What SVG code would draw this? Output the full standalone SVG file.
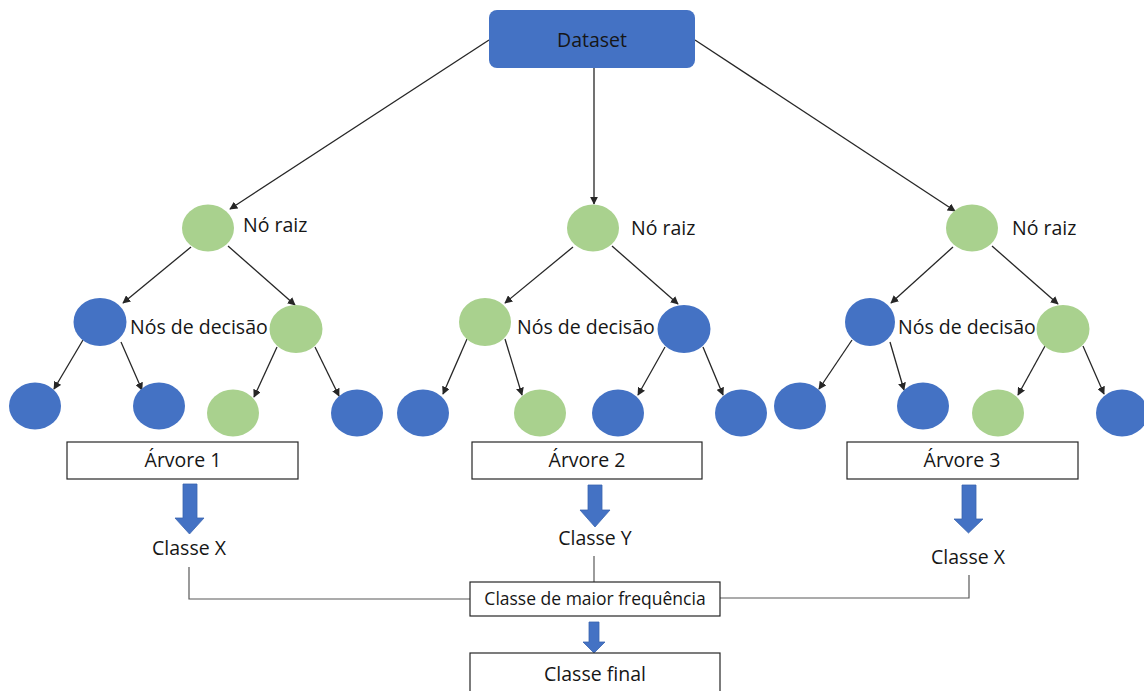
<svg xmlns="http://www.w3.org/2000/svg" width="1144" height="691" viewBox="0 0 1144 691">
  <style>
    .blue { fill: #4472C4; }
    .green { fill: #A9D18E; }
    .edge { stroke: #262626; stroke-width: 1.3; fill: none; marker-end: url(#arrow); }
    .wire { stroke: #595959; stroke-width: 1.2; fill: none; }
    .box { fill: #FFFFFF; stroke: #262626; stroke-width: 1.2; }
    .label { font-family: "Open Sans", "Liberation Sans", sans-serif; fill: #161616; }
    .big { font-size: 19.5px; }
    .mid { font-size: 19.5px; }
    .small { font-size: 17.5px; }
    .block { fill: #4472C4; stroke: #3A64B0; stroke-width: 0.8; }
  </style>
  <defs>
    <marker id="arrow" viewBox="0 0 10 10" refX="9" refY="5" markerWidth="8" markerHeight="8" markerUnits="userSpaceOnUse" orient="auto">
      <path d="M0,0 L10,5 L0,10 Z" fill="#262626"/>
    </marker>
  </defs>

  <rect width="1144" height="691" fill="#FFFFFF"/>

  <!-- connectors -->
  <g id="connectors">
    <!-- dataset to roots -->
    <line class="edge" x1="489" y1="40" x2="230" y2="209"/>
    <line class="edge" x1="594" y1="68" x2="594" y2="204"/>
    <line class="edge" x1="695" y1="40" x2="955" y2="211"/>
    <!-- tree 1 -->
    <line class="edge" x1="191" y1="247" x2="123" y2="303"/>
    <line class="edge" x1="228" y1="246" x2="295" y2="305"/>
    <line class="edge" x1="83" y1="340" x2="54" y2="389"/>
    <line class="edge" x1="121" y1="342" x2="142" y2="390"/>
    <line class="edge" x1="277" y1="347" x2="254" y2="397"/>
    <line class="edge" x1="315" y1="347" x2="339" y2="396"/>
    <!-- tree 2 -->
    <line class="edge" x1="573" y1="247" x2="505" y2="303"/>
    <line class="edge" x1="612" y1="246" x2="678" y2="304"/>
    <line class="edge" x1="467" y1="339" x2="443" y2="394"/>
    <line class="edge" x1="505" y1="339" x2="522" y2="395"/>
    <line class="edge" x1="665" y1="347" x2="638" y2="395"/>
    <line class="edge" x1="703" y1="347" x2="723" y2="395"/>
    <!-- tree 3 -->
    <line class="edge" x1="953" y1="247" x2="891" y2="303"/>
    <line class="edge" x1="992" y1="246" x2="1058" y2="304"/>
    <line class="edge" x1="852" y1="340" x2="819" y2="389"/>
    <line class="edge" x1="890" y1="342" x2="904" y2="390"/>
    <line class="edge" x1="1045" y1="346" x2="1018" y2="395"/>
    <line class="edge" x1="1083" y1="346" x2="1104" y2="394"/>
    <!-- votes to aggregation -->
    <polyline class="wire" points="189,567 189,599 470,599"/>
    <line class="wire" x1="594" y1="556" x2="594" y2="582"/>
    <polyline class="wire" points="969,575 969,598 720,598"/>
    <!-- block arrows -->
    <path class="block" d="M183,484 H197 V518 H204 L189.5,534 L175,518 H183 Z"/>
    <path class="block" d="M588,485 H602 V510 H610 L595,527 L580,510 H588 Z"/>
    <path class="block" d="M962,485 H976 V519 H983 L968.5,533 L954,519 H962 Z"/>
    <path class="block" d="M589,622 H599 V642 H605 L594,653 L583,642 H589 Z"/>
  </g>

  <!-- dataset -->
  <g id="dataset">
    <rect x="489" y="10" width="206" height="58" rx="8" ry="8" class="blue"/>
    <text class="label mid" x="592" y="47" text-anchor="middle">Dataset</text>
  </g>

  <!-- tree 1 -->
  <g id="tree1">
    <ellipse class="green" cx="208" cy="228" rx="26" ry="23.5"/>
    <text class="label big" x="243" y="232">Nó raiz</text>
    <ellipse class="blue" cx="100" cy="322" rx="26.5" ry="24"/>
    <ellipse class="green" cx="296" cy="329" rx="26.5" ry="24"/>
    <text class="label big" x="130" y="334">Nós de decisão</text>
    <ellipse class="blue" cx="35" cy="406" rx="26" ry="23.5"/>
    <ellipse class="blue" cx="159" cy="406" rx="26" ry="23.5"/>
    <ellipse class="green" cx="233" cy="413" rx="26" ry="23.5"/>
    <ellipse class="blue" cx="357" cy="413" rx="26" ry="23.5"/>
  </g>

  <!-- tree 2 -->
  <g id="tree2">
    <ellipse class="green" cx="593" cy="228" rx="26" ry="23.5"/>
    <text class="label big" x="631" y="235">Nó raiz</text>
    <ellipse class="green" cx="485" cy="322" rx="26" ry="24"/>
    <ellipse class="blue" cx="684" cy="329" rx="26.5" ry="24"/>
    <text class="label big" x="517" y="334">Nós de decisão</text>
    <ellipse class="blue" cx="423" cy="413" rx="26" ry="23.5"/>
    <ellipse class="green" cx="540" cy="413" rx="26" ry="23.5"/>
    <ellipse class="blue" cx="618" cy="413" rx="26" ry="23.5"/>
    <ellipse class="blue" cx="741" cy="413" rx="26" ry="23.5"/>
  </g>

  <!-- tree 3 -->
  <g id="tree3">
    <ellipse class="green" cx="972" cy="228" rx="26" ry="23.5"/>
    <text class="label big" x="1012" y="235">Nó raiz</text>
    <ellipse class="blue" cx="870" cy="322" rx="25" ry="24"/>
    <ellipse class="green" cx="1063" cy="329" rx="26.5" ry="24"/>
    <text class="label big" x="898" y="334">Nós de decisão</text>
    <ellipse class="blue" cx="800" cy="406" rx="26" ry="23.5"/>
    <ellipse class="blue" cx="923" cy="406" rx="26" ry="23.5"/>
    <ellipse class="green" cx="998" cy="413" rx="26" ry="23.5"/>
    <ellipse class="blue" cx="1122" cy="413" rx="26" ry="23.5"/>
  </g>

  <!-- tree labels -->
  <g id="arvore1">
    <rect class="box" x="67" y="442" width="231" height="37"/>
    <text class="label mid" x="183" y="467" text-anchor="middle">Árvore 1</text>
  </g>
  <g id="arvore2">
    <rect class="box" x="472" y="442" width="230" height="37"/>
    <text class="label mid" x="587" y="467" text-anchor="middle">Árvore 2</text>
  </g>
  <g id="arvore3">
    <rect class="box" x="847" y="442" width="231" height="37"/>
    <text class="label mid" x="962" y="467" text-anchor="middle">Árvore 3</text>
  </g>

  <!-- predicted classes -->
  <g id="classe1">
    <text class="label mid" x="189" y="555" text-anchor="middle">Classe X</text>
  </g>
  <g id="classe2">
    <text class="label mid" x="595" y="545" text-anchor="middle">Classe Y</text>
  </g>
  <g id="classe3">
    <text class="label mid" x="968" y="564" text-anchor="middle">Classe X</text>
  </g>

  <!-- aggregation -->
  <g id="frequencia">
    <rect class="box" x="470" y="582" width="250" height="34"/>
    <text class="label small" x="595" y="605" text-anchor="middle">Classe de maior frequência</text>
  </g>
  <g id="final">
    <rect class="box" x="470" y="653" width="250" height="40"/>
    <text class="label mid" x="595" y="681" text-anchor="middle">Classe final</text>
  </g>
</svg>
